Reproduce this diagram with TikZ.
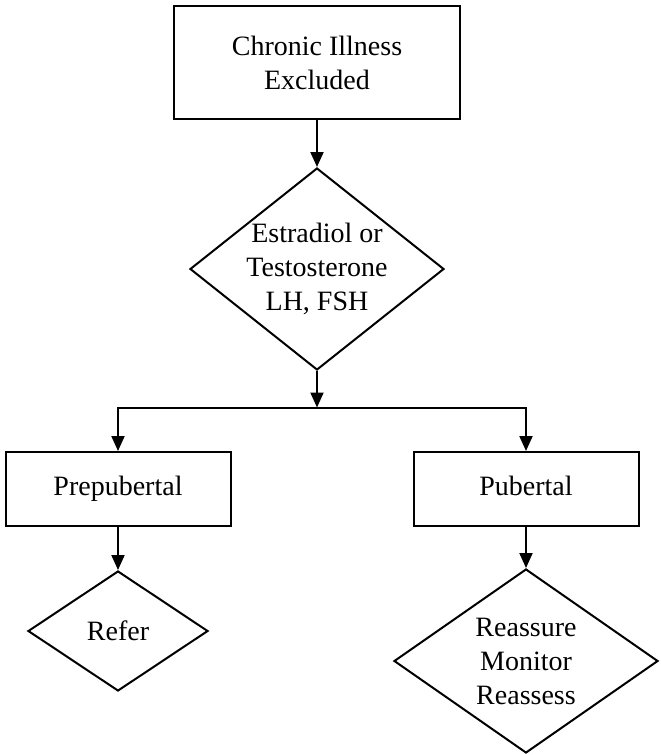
\documentclass[tikz,border=0pt]{standalone}
\usepackage{fontspec}
\setmainfont{Liberation Serif}
\usetikzlibrary{shapes.geometric,arrows.meta}
\begin{document}
\begin{tikzpicture}[x=1pt,y=-1pt,
  txt/.style={font=\fontsize{28}{34}\selectfont,align=center},
  box/.style={draw,line width=2pt,rectangle,inner sep=0pt,txt},
  dia/.style={draw,line width=2pt,diamond,inner sep=0pt},
  dlbl/.style={txt,inner sep=0pt},
  conn/.style={line width=2pt,-{Triangle[length=15pt,width=13pt]}}
]
\useasboundingbox (0,0) rectangle (661,755);
\fill[white] (0,0) rectangle (661,755);

\node[box,minimum width=286pt,minimum height=113pt] (top) at (317,62.5) {Chronic Illness\\Excluded};
\node[dia,minimum width=254pt,minimum height=202pt,
      label={[dlbl]center:{Estradiol or\\Testosterone\\LH, FSH}}] (d1) at (317,269) {};
\coordinate (split) at (317,407.5);
\node[box,minimum width=225pt,minimum height=74pt] (pre) at (118,489) {\strut Prepubertal};
\node[box,minimum width=225pt,minimum height=74pt] (pub) at (526,489) {\strut Pubertal};
\node[dia,minimum width=180pt,minimum height=120pt,
      label={[dlbl]center:{Refer}}] (refer) at (118,631) {};
\node[dia,minimum width=264pt,minimum height=184pt,
      label={[dlbl]center:{Reassure\\Monitor\\Reassess}}] (re) at (526,661) {};

\draw[conn] (top.south) -- (d1.north);
\draw[conn] (d1.south) -- (split);
\draw[conn] (split) -| (pre.north);
\draw[conn] (split) -| (pub.north);
\draw[conn] (pre.south) -- (refer.north);
\draw[conn] (pub.south) -- (re.north);
\end{tikzpicture}
\end{document}
